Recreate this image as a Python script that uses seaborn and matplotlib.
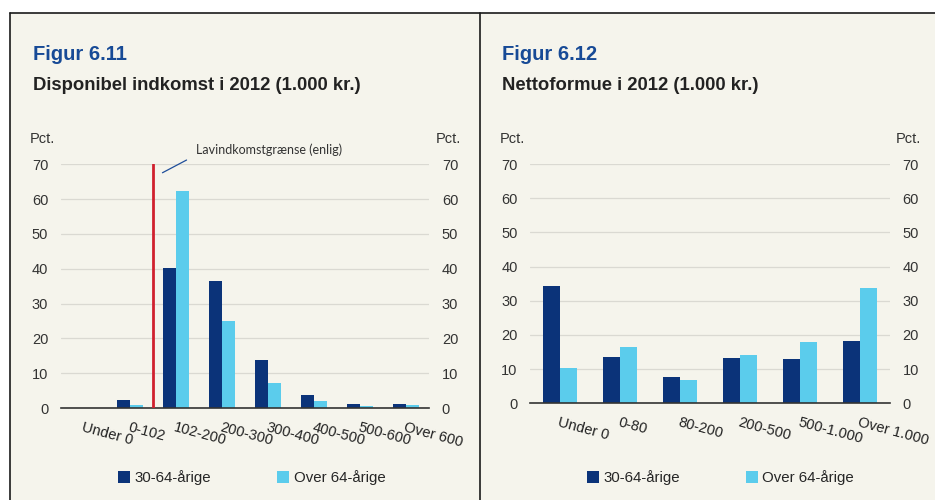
import matplotlib
matplotlib.use("Agg")
import matplotlib.pyplot as plt
from matplotlib.lines import Line2D
from matplotlib.patches import Rectangle
import seaborn as sns
import numpy as np
import pandas as pd

# data
groups = ["30-64-årige", "Over 64-årige"]

inc_cats = ["Under 0", "0-102", "102-200", "200-300", "300-400", "400-500", "500-600", "Over 600"]
inc_young = [0.0, 2.3, 40.3, 36.4, 13.8, 3.6, 1.05, 1.05]
inc_old = [0.0, 0.8, 62.3, 25.0, 7.2, 2.0, 0.6, 0.9]

wealth_cats = ["Under 0", "0-80", "80-200", "200-500", "500-1.000", "Over 1.000"]
wealth_young = [34.3, 13.4, 7.7, 13.2, 12.9, 18.2]
wealth_old = [10.3, 16.4, 6.8, 14.1, 18.0, 33.8]

low_income_limit = 1.5  # boundary between 0-102 and 102-200

navy = "#0B3379"
light = "#5BCCEC"
bg = "#F5F4EC"
title_blue = "#174A96"

sns.set_style("white", {"axes.facecolor": bg, "figure.facecolor": "white"})
plt.rcParams["font.family"] = ["Liberation Sans", "DejaVu Sans"]

fig = plt.figure(figsize=(9.35, 5), dpi=100)

# cream panel with frame lines
fig.add_artist(Rectangle((10 / 935, 0), 1, 1 - 13 / 500, transform=fig.transFigure,
                         facecolor=bg, edgecolor="none", zorder=-10))
fig.add_artist(Line2D([10 / 935, 1], [1 - 13 / 500] * 2, transform=fig.transFigure, color="#1a1a1a", lw=1.2))
fig.add_artist(Line2D([10 / 935] * 2, [0, 1 - 13 / 500], transform=fig.transFigure, color="#1a1a1a", lw=1.2))
fig.add_artist(Line2D([480 / 935] * 2, [0, 1 - 13 / 500], transform=fig.transFigure, color="#1a1a1a", lw=1.2))


def make_df(cats, young, old):
    return pd.DataFrame({
        "cat": cats * 2,
        "val": young + old,
        "grp": [groups[0]] * len(cats) + [groups[1]] * len(cats),
    })


def draw(ax, cats, young, old, legend_x, legend_y):
    df = make_df(cats, young, old)
    sns.barplot(data=df, x="cat", y="val", hue="grp", palette=[navy, light],
                width=0.57, saturation=1, linewidth=0, ax=ax)
    n = len(cats)
    ax.set_xlim(-0.5, n - 0.5)
    ax.set_ylim(0, 70)
    ax.set_yticks(range(0, 71, 10))
    ax.yaxis.grid(True, color="#DAD9D2", lw=0.9)
    ax.set_axisbelow(True)
    for s in ["top", "left", "right"]:
        ax.spines[s].set_visible(False)
    ax.spines["bottom"].set_color("#333333")
    ax.spines["bottom"].set_linewidth(1.2)
    ax.tick_params(axis="y", length=0, labelsize=10.5, labelcolor="#333333",
                   labelleft=True, labelright=True, pad=9)
    ax.set_xticks(range(n))
    ax.set_xticklabels(cats, rotation=-15, ha="left", va="top",
                       rotation_mode="anchor", fontsize=10.5, color="#222222")
    ax.tick_params(axis="x", which="major", length=0, pad=9)
    ax.set_xticks(np.arange(-0.5, n, 1), minor=True)
    ax.tick_params(axis="x", which="minor", length=4, width=1, color="#333333", direction="out")
    ax.set_xlabel("")
    ax.set_ylabel("")
    ax.text(-0.085, 1.105, "Pct.", transform=ax.transAxes, fontsize=10.5, color="#333333", ha="left", va="center")
    ax.text(1.085, 1.105, "Pct.", transform=ax.transAxes, fontsize=10.5, color="#333333", ha="right", va="center")
    sns.move_legend(ax, "center", bbox_to_anchor=(legend_x, legend_y), ncol=2, title=None,
                    frameon=False, fontsize=10.8, handlelength=0.8, handleheight=0.8,
                    handletextpad=0.3, columnspacing=4.4)


ax1 = fig.add_axes([60.7 / 935, 1 - 408 / 500, 368.6 / 935, 243.7 / 500])
draw(ax1, inc_cats, inc_young, inc_old, 0.518, -0.287)
ax1.axvline(low_income_limit, ymin=0, ymax=1, color="#D0202E", lw=2, zorder=5)
ax1.annotate("", xy=(1.655, 67.2), xytext=(2.285, 71.6),
             arrowprops=dict(arrowstyle="-", color="#1F4E9A", lw=0.9),
             annotation_clip=False)
ax1.text(2.44, 74.1, "Lavindkomstgrænse (enlig)", fontsize=9, color="#333333",
         family=["Lato", "DejaVu Sans"], ha="left", va="center", clip_on=False)

ax2 = fig.add_axes([530 / 935, 1 - 403.3 / 500, 360 / 935, 239.3 / 500])
draw(ax2, wealth_cats, wealth_young, wealth_old, 0.529, -0.31)

fig.text(33 / 935, 1 - 55 / 500, "Figur 6.11", fontsize=14.5, fontweight="bold", color=title_blue, va="center")
fig.text(33 / 935, 1 - 85 / 500, "Disponibel indkomst i 2012 (1.000 kr.)", fontsize=13.3,
         fontweight="bold", color="#222222", va="center")
fig.text(502 / 935, 1 - 55 / 500, "Figur 6.12", fontsize=14.5, fontweight="bold", color=title_blue, va="center")
fig.text(502 / 935, 1 - 85 / 500, "Nettoformue i 2012 (1.000 kr.)", fontsize=13.3,
         fontweight="bold", color="#222222", va="center")

fig.savefig("out.png", dpi=100)
